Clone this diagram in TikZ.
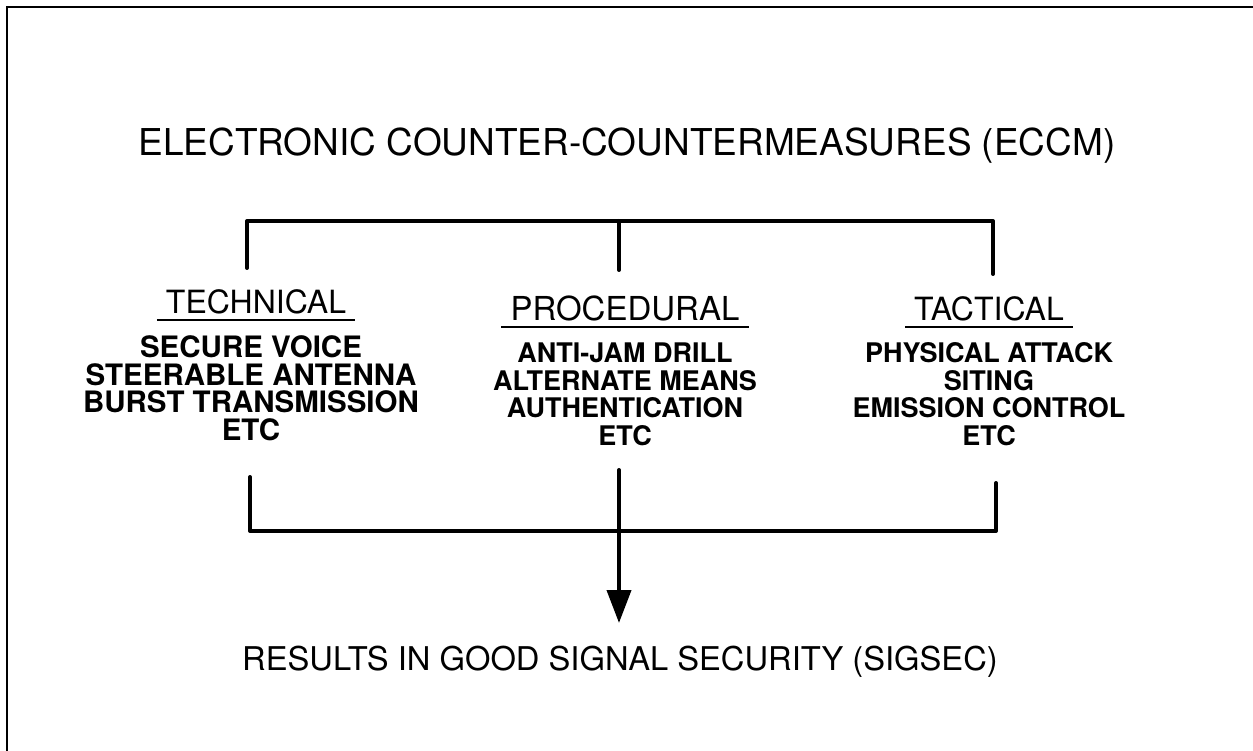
\documentclass[tikz,border=0pt]{standalone}
\usepackage{fontspec}
\setmainfont{TeX Gyre Heros}
\usetikzlibrary{arrows.meta,positioning}
\tikzset{>=latex}

\begin{document}
\begin{tikzpicture}[x=1pt, y=-1pt,
  title/.style={font=\fontsize{37}{37}\selectfont, inner sep=0pt},
  heading/.style={font=\fontsize{32}{32}\selectfont, inner xsep=9pt, inner ysep=6pt},
  items/.style={font=\bfseries\fontsize{27}{27.5}\selectfont, align=center, inner sep=0pt},
  bracket/.style={line width=4pt, line join=round, line cap=round}]
\useasboundingbox (0,0) rectangle (1253,751);
\draw[line width=2pt] (1253,7) -- (7,7) -- (7,751);

\node[title, anchor=base] (eccm) at (627,156) {ELECTRONIC COUNTER-COUNTERMEASURES (ECCM)};

% the three kinds
\node[heading, anchor=base] (tech) at (256,313) {TECHNICAL};
\node[heading, anchor=base, font=\fontsize{33}{33}\selectfont] (proc) at (625,320) {PROCEDURAL};
\node[heading, anchor=base] (tact) at (989,320) {TACTICAL};
\foreach \h in {tech,proc,tact}
  \draw[line width=1.5pt] (\h.south west) -- (\h.south east);

\node[items, font=\bfseries\fontsize{29.5}{27.5}\selectfont, below=16pt of tech.south, xshift=-5pt] (techlist)
  {SECURE VOICE\\STEERABLE ANTENNA\\BURST TRANSMISSION\\ETC};
\node[items, below=16pt of proc.south] (proclist)
  {ANTI-JAM DRILL\\ALTERNATE MEANS\\AUTHENTICATION\\ETC};
\node[items, below=16pt of tact.south] (tactlist)
  {PHYSICAL ATTACK\\SITING\\EMISSION CONTROL\\ETC};

\node[title, font=\fontsize{32.7}{32.7}\selectfont, anchor=base] (result) at (620,670)
  {RESULTS IN GOOD SIGNAL SECURITY (SIGSEC)};

% brackets
\coordinate (t-l) at (247,268);
\coordinate (t-m) at (619,270);
\coordinate (t-r) at (993,274);
\draw[bracket] (t-l) -- (t-l |- 0,221) -- (t-r |- 0,221) -- (t-r);
\draw[bracket] (t-m) -- (t-m |- 0,221);

\coordinate (b-l) at (250,477);
\coordinate (b-m) at (619,470);
\coordinate (b-r) at (996,483);
\coordinate (b-end) at (619,623);
\draw[bracket] (b-l) -- (b-l |- 0,531) -- (b-r |- 0,531) -- (b-r);
\draw[bracket, -{Triangle[length=33pt, width=24pt]}] (b-m) -- (b-end);
\end{tikzpicture}
\end{document}
